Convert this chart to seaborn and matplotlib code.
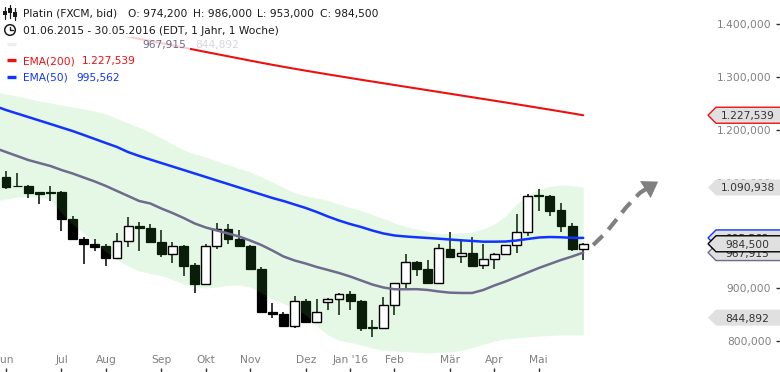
import matplotlib
matplotlib.use("Agg")
import matplotlib.pyplot as plt
import matplotlib.transforms as mtransforms
from matplotlib.patches import Polygon, Rectangle, Circle
from matplotlib.lines import Line2D
import numpy as np
import seaborn as sns

# ---------------- data (weekly candles, 01.06.2015 - 30.05.2016) ----------------
opens = [1111, 1094, 1094, 1082, 1082, 1082, 1031, 993, 985, 980,
         958, 990, 1018, 1015, 987, 966, 980, 944, 908, 980,
         1012, 993, 981, 937, 856, 851, 830, 876, 837, 874,
         880, 889, 877, 828, 826, 868, 910, 951, 936, 911,
         975, 961, 968, 944, 955, 965, 982, 1006, 1077, 1075,
         1048, 1018, 974.2]
highs = [1122, 1118, 1096, 1083, 1094, 1084, 1037, 997, 994, 984,
         1004, 1035, 1026, 1022, 1011, 987, 982, 949, 984, 1023,
         1022, 1011, 982, 940, 872, 855, 886, 880, 880, 882,
         892, 895, 878, 840, 883, 910, 965, 952, 954, 984,
         1007, 993, 997, 985, 968, 982, 1041, 1079, 1088, 1077,
         1062, 1024, 986]
lows = [1089, 1093, 1072, 1059, 1066, 1009, 992, 946, 971, 942,
        955, 979, 970, 986, 959, 949, 924, 892, 906, 975,
        985, 980, 936, 855, 844, 829, 825, 835, 835, 859,
        850, 859, 820, 809, 825, 849, 899, 924, 910, 908,
        959, 949, 941, 936, 936, 964, 968, 1000, 1047, 1037,
        1007, 971, 953]
closes = [1092, 1093, 1081, 1079, 1080, 1031, 993, 985, 979, 958,
          990, 1018, 1015, 987, 966, 980, 943, 908, 980, 1012,
          993, 981, 937, 856, 851, 830, 876, 837, 855, 880,
          889, 877, 825, 825, 868, 910, 951, 936, 911, 976,
          959, 968, 943, 955, 965, 982, 1006, 1075, 1074, 1047,
          1019, 974, 984.5]

# indicator lines, one value per week from week -1 to week 52
line_weeks = list(range(-1, 53))
ema200 = [1426.5, 1422.3, 1418.1, 1413.9, 1409.7, 1405.5, 1401.3, 1397.1, 1392.9, 1388.7,
          1384.6, 1380.4, 1376.2, 1372.0, 1367.9, 1363.7, 1359.6, 1355.4, 1351.3, 1347.2,
          1343.1, 1339.0, 1334.9, 1330.8, 1326.8, 1322.9, 1319.1, 1315.4, 1311.8, 1308.3,
          1304.8, 1301.4, 1298.0, 1294.6, 1291.3, 1288.0, 1284.7, 1281.4, 1278.1, 1274.8,
          1271.5, 1268.2, 1264.9, 1261.6, 1258.3, 1255.0, 1251.7, 1248.3, 1244.9, 1241.5,
          1238.1, 1234.6, 1231.1, 1227.5]
ema50 = [1245.0, 1237.4, 1230.8, 1224.2, 1217.6, 1211.0, 1204.3, 1197.7, 1190.2, 1182.6,
         1175.0, 1167.5, 1157.9, 1150.5, 1143.8, 1137.2, 1130.6, 1124.0, 1117.4, 1110.8,
         1104.1, 1097.5, 1090.9, 1084.3, 1077.7, 1071.1, 1065.4, 1058.8, 1052.2, 1044.6,
         1036.1, 1028.5, 1021.9, 1016.2, 1009.6, 1004.0, 1000.2, 998.3, 996.8, 995.5,
         994.1, 992.6, 991.1, 989.8, 988.5, 988.5, 988.8, 990.7, 993.6, 996.4,
         997.3, 996.8, 995.8, 995.6]
bb_mid = [1165.6, 1158.0, 1150.5, 1142.9, 1137.2, 1131.6, 1124.0, 1117.4, 1109.8, 1102.3,
          1093.8, 1084.3, 1074.9, 1065.4, 1060.7, 1051.2, 1042.7, 1033.3, 1022.9, 1015.3,
          1009.6, 1004.0, 998.3, 990.7, 982.2, 971.8, 960.5, 952.9, 947.2, 940.6,
          935.0, 929.3, 922.7, 915.1, 907.5, 901.9, 898.5, 898.5, 898.7, 897.2,
          894.3, 892.1, 891.5, 891.5, 897.2, 905.7, 913.2, 921.7, 930.2, 938.7,
          946.3, 953.9, 960.5, 967.9]
bb_upper = [1271.5, 1267.7, 1263.9, 1259.2, 1254.4, 1250.7, 1246.9, 1243.1, 1239.3, 1235.5,
            1229.9, 1221.4, 1212.9, 1204.3, 1195.8, 1184.5, 1173.2, 1161.8, 1154.2, 1148.6,
            1141.0, 1134.4, 1126.8, 1120.2, 1110.8, 1101.3, 1090.9, 1081.5, 1074.9, 1071.1,
            1066.3, 1059.7, 1053.1, 1047.4, 1039.9, 1032.3, 1023.8, 1017.2, 1012.5, 1007.7,
            1004.0, 1004.0, 1004.9, 1006.8, 1012.5, 1021.9, 1037.0, 1059.7, 1076.7, 1088.1,
            1092.8, 1095.6, 1094.7, 1090.9]
bb_lower = [1065.4, 1069.2, 1073.0, 1073.0, 1072.0, 1069.2, 1042.7, 1021.9, 1004.0, 986.0,
            969.9, 953.9, 942.5, 933.1, 928.3, 924.6, 917.0, 908.5, 902.8, 900.9,
            902.8, 905.7, 906.6, 902.8, 891.5, 880.1, 871.6, 863.1, 849.9, 829.1,
            812.1, 802.6, 797.9, 793.2, 787.5, 783.2, 781.8, 780.3, 779.0, 778.1,
            779.0, 779.9, 782.8, 788.5, 794.1, 800.7, 804.5, 806.4, 808.3, 810.2,
            811.1, 812.1, 812.1, 812.1]

month_ticks = [0, 5, 9, 14, 18, 22, 27, 31, 35, 40, 44, 48]
month_labels = ["Jun", "Jul", "Aug", "Sep", "Okt", "Nov", "Dez", "Jan '16", "Feb", "Mär", "Apr", "Mai"]
price_ticks = [800, 900, 1000, 1100, 1200, 1300, 1400]
price_labels = ["800,000", "900,000", "1.000,000", "1.100,000", "1.200,000", "1.300,000", "1.400,000"]

# last values shown as tags on the right
tag_values = [1227.539, 1090.938, 995.562, 967.915, 984.5, 844.892]
tag_texts = ["1.227,539", "1.090,938", "995,562", "967,915", "984,500", "844,892"]

# projected trend arrow (week, price)
arrow_x = [52.9, 54.1, 55.9, 57.1, 58.0]
arrow_y = [982.2, 1006.8, 1054.1, 1080.5, 1093.0]
arrow_tip = (58.75, 1102.0)

# ---------------- style ----------------
sns.set_theme(style="white")
plt.rcParams["font.family"] = ["DejaVu Sans"]
FS = 7.7
W, H = 780, 372

fig = plt.figure(figsize=(7.8, 3.72), dpi=100)
ax = fig.add_axes([0, 0, 1, 1])
ax.set_facecolor("white")
ax.set_xlim(-0.54, 69.73)
ax.set_ylim(742.1, 1445.4)
for s in ax.spines.values():
    s.set_visible(False)

o = np.array(opens); h = np.array(highs); l = np.array(lows); c = np.array(closes)
wk = np.arange(len(o))
up = c >= o

# wicks and bearish bodies (under the band, so they get tinted green)
ax.vlines(wk, l, h, color="black", lw=1.1, zorder=2)
ax.bar(wk[~up], (o - c)[~up], bottom=c[~up], width=0.8, color="black",
       edgecolor="black", lw=0.9, zorder=2)

# translucent green band
ax.fill_between(line_weeks, bb_lower, bb_upper, color=(0.28, 0.83, 0.28),
                alpha=0.142, lw=0, zorder=3)

# bullish hollow bodies
ax.bar(wk[up], (c - o)[up], bottom=o[up], width=0.8, facecolor="white",
       edgecolor="black", lw=1.0, zorder=4)

# indicator lines
sns.lineplot(x=line_weeks, y=bb_mid, ax=ax, color="#6f6b8d", linewidth=1.8, zorder=5)
sns.lineplot(x=line_weeks, y=ema50, ax=ax, color="#1234ff", linewidth=1.8, zorder=5)
sns.lineplot(x=line_weeks, y=ema200, ax=ax, color="#ee1010", linewidth=1.5, zorder=5)

# dashed projection arrow
ax.plot(arrow_x, arrow_y, color="#808080", lw=3.0, ls=(0, (3.2, 2.0)),
        solid_capstyle="butt", dash_capstyle="butt", zorder=6)
ax.annotate("", xy=arrow_tip, xytext=(arrow_x[-2], arrow_y[-2]),
            arrowprops=dict(arrowstyle="-|>,head_length=0.45,head_width=0.3",
                            color="#808080", lw=0.01, mutation_scale=24,
                            shrinkA=0, shrinkB=0), zorder=6)

# axes ticks
ax.yaxis.tick_right()
ax.set_yticks(price_ticks)
ax.set_yticklabels(price_labels, ha="right")
ax.tick_params(axis="y", which="major", direction="in", length=3.2, width=1,
               color="#333333", pad=-6.3, labelsize=FS, labelcolor="#808080",
               right=True, left=False, labelright=True, labelleft=False)
ax.set_xticks(month_ticks)
ax.set_xticklabels(month_labels, va="bottom")
ax.tick_params(axis="x", which="major", direction="in", length=3, width=1,
               color="#333333", pad=-5.0, labelsize=FS, labelcolor="#808080",
               bottom=True, top=False)

# value tags on the right
trans = mtransforms.blended_transform_factory(ax.transAxes, ax.transData)
hh = 8 * (1445.4 - 742.1) / H
tag_edges = ["#ee1010", None, "#1234ff", "#6f6b8d", "black", None]
tag_z = [6, 6, 6.2, 6.3, 6.6, 6]
for v, t, e, z in zip(tag_values, tag_texts, tag_edges, tag_z):
    pts = [[708 / W, v], [716 / W, v + hh], [1.004, v + hh], [1.004, v - hh], [716 / W, v - hh]]
    poly = Polygon(pts, closed=True, transform=trans, facecolor="#e0e0e0",
                   edgecolor=e if e else "none", lw=1.0, zorder=z, clip_on=False)
    ax.add_patch(poly)
    ax.text(747.5 / W, v, t, transform=trans, ha="center", va="center_baseline",
            fontsize=FS, color="#333333", zorder=z + 0.05)

# header / legend area (pixel coordinates)
px = mtransforms.IdentityTransform()
ax.add_patch(Rectangle((0, H - 37), 395, 37, transform=px, facecolor="white",
                       edgecolor="none", zorder=8))
ax.add_patch(Rectangle((0, H - 88), 190, 51, transform=px, facecolor="white",
                       edgecolor="none", alpha=0.8, zorder=8))


def T(x, y, s, color="#1a1a1a"):
    ax.text(x, H - y, s, transform=px, fontsize=FS, color=color, ha="left",
            va="center_baseline", zorder=9)


T(23, 13, "Platin (FXCM, bid)")
T(128, 13, "O: 974,200")
T(193, 13, "H: 986,000")
T(257, 13, "L: 953,000")
T(320, 13, "C: 984,500")
T(23, 30, "01.06.2015 - 30.05.2016 (EDT, 1 Jahr, 1 Woche)")
T(142, 44, "967,915", "#6f6b8d")
T(195, 44, "844,892", "#d6d6e2")
T(23, 60, "EMA(200)", "#ee1010")
T(82, 60, "1.227,539", "#ee1010")
T(23, 77, "EMA(50)", "#1234ff")
T(76, 77, "995,562", "#1234ff")

# legend markers
for yy, col in [(44, "#ececf2"), (60, "#ee1010"), (77, "#1234ff")]:
    ax.add_line(Line2D([7, 16], [H - yy, H - yy], transform=px, color=col, lw=2.4,
                       solid_capstyle="butt", zorder=9))

# candlestick icon
for xx, y0, y1, b0, b1 in [(5, 7, 19, 11, 15), (10, 5, 18, 8, 13), (15, 8, 20, 12, 17)]:
    ax.add_line(Line2D([xx, xx], [H - y0, H - y1], transform=px, color="#1a1a1a",
                       lw=0.9, zorder=9))
    ax.add_patch(Rectangle((xx - 1.6, H - b1), 3.2, b1 - b0, transform=px,
                           facecolor="#1a1a1a", edgecolor="none", zorder=9))
# clock icon
ax.add_patch(Circle((10, H - 30), 5.3, transform=px, facecolor="white",
                    edgecolor="#1a1a1a", lw=1.1, zorder=9))
ax.add_line(Line2D([10, 10, 13], [H - 26.5, H - 30, H - 30], transform=px,
                   color="#1a1a1a", lw=1.0, zorder=9))

fig.savefig("out.png", dpi=100)
